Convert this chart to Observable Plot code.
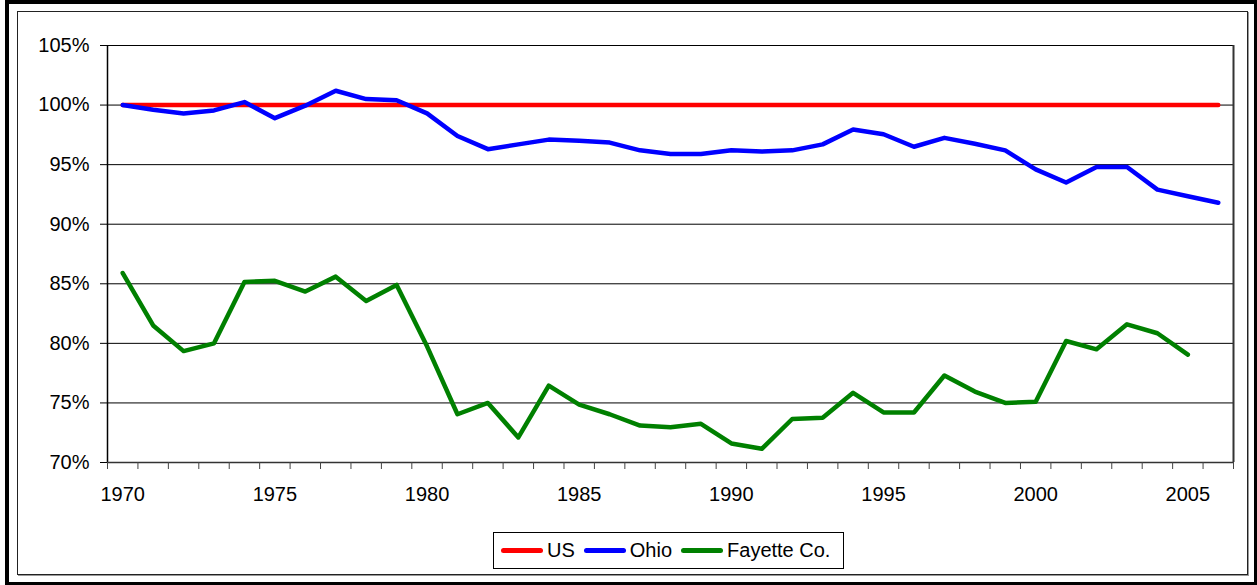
<!DOCTYPE html>
<html><head><meta charset="utf-8">
<script src="https://cdn.jsdelivr.net/npm/d3@7"></script>
<script src="https://cdn.jsdelivr.net/npm/@observablehq/plot@0.6"></script>
<style>
body{margin:0;background:#fff;}
#wrap{position:relative;width:1257px;height:585px;overflow:hidden;font-family:"Liberation Sans",Arial,sans-serif;background:#fff;}
#outer{position:absolute;left:5px;top:0;width:1252px;height:585px;box-sizing:border-box;border-style:solid;border-color:#000;border-width:4px 3px 3px 4px;}
#inner{position:absolute;left:17px;top:11px;width:1231px;height:564px;box-sizing:border-box;border:1px solid #222;box-shadow:1px 1px 0 #999;}
#chart{position:absolute;left:0;top:0;}
#legend{position:absolute;left:493px;top:532px;width:351px;height:37px;box-sizing:border-box;border:1px solid #000;display:flex;align-items:center;padding-left:7px;font-size:20px;color:#000;background:#fff;}
.item{display:flex;align-items:center;margin-right:9px;white-space:nowrap;}
.sw{width:42px;height:5px;border-radius:2.5px;margin-right:4px;}
</style></head>
<body>
<div id="wrap">
  <div id="outer"></div>
  <div id="inner"></div>
  <div id="chart"></div>
  <div id="legend"></div>
</div>
<script>
const years = [1970,1971,1972,1973,1974,1975,1976,1977,1978,1979,1980,1981,1982,1983,1984,1985,1986,1987,1988,1989,1990,1991,1992,1993,1994,1995,1996,1997,1998,1999,2000,2001,2002,2003,2004,2005,2006];
const usValues = [100,100,100,100,100,100,100,100,100,100,100,100,100,100,100,100,100,100,100,100,100,100,100,100,100,100,100,100,100,100,100,100,100,100,100,100,100];
const ohioValues = [100.0,99.6,99.3,99.55,100.25,98.9,99.95,101.2,100.5,100.4,99.3,97.4,96.3,96.7,97.1,97.0,96.85,96.2,95.9,95.9,96.2,96.1,96.2,96.7,97.95,97.55,96.5,97.25,96.75,96.2,94.6,93.5,94.8,94.8,92.9,92.35,91.8];
const fayetteValues = [85.9,81.5,79.35,80.0,85.15,85.25,84.35,85.6,83.55,84.9,79.75,74.05,75.0,72.1,76.45,74.85,74.05,73.1,72.95,73.25,71.6,71.15,73.65,73.75,75.85,74.2,74.2,77.3,75.95,75.0,75.1,80.2,79.5,81.6,80.85,79.05];
const seriesNames = ["US","Ohio","Fayette Co."];
const seriesColors = ["#ff0000","#0000ff","#008000"];
const yTickValues = [70,75,80,85,90,95,100,105];
const xLabelYears = [1970,1975,1980,1985,1990,1995,2000,2005];

const seriesValues = [usValues, ohioValues, fayetteValues];
const rows = [];
seriesNames.forEach((name, i) => {
  seriesValues[i].forEach((v, j) => rows.push({series: name, year: years[j], value: v}));
});
const boundaries = years.map(y => y - 0.5).concat([years[years.length - 1] + 0.5]);

const chart = Plot.plot({
  width: 1257, height: 585,
  marginLeft: 107, marginRight: 24, marginTop: 45, marginBottom: 123,
  x: {domain: [boundaries[0], boundaries[boundaries.length - 1]], label: null},
  y: {domain: [70, 105], label: null},
  color: {domain: seriesNames, range: seriesColors},
  style: {fontFamily: '"Liberation Sans", Arial, sans-serif', fontSize: "20px", color: "#000", background: "transparent", overflow: "visible"},
  marks: [
    Plot.ruleY(yTickValues, {stroke: "#000", strokeWidth: 1}),
    Plot.ruleX([boundaries[0]], {stroke: "#000", strokeWidth: 1.5}),
    Plot.ruleX([boundaries[boundaries.length - 1]], {stroke: "#333", strokeWidth: 2}),
    Plot.ruleY([70], {stroke: "#333", strokeWidth: 1.5}),
    Plot.axisY(yTickValues, {tickSize: 7, tickPadding: 11, tickFormat: d => d + "%", stroke: "#000", strokeOpacity: 1, fill: "#000"}),
    Plot.axisX(boundaries, {tickSize: 7, tickFormat: () => "", stroke: "#444", strokeOpacity: 1}),
    Plot.axisX(xLabelYears, {tickSize: 0, tickPadding: 24, tickFormat: d => String(d), fill: "#000"}),
    Plot.lineY(rows, {x: "year", y: "value", z: "series", stroke: "series", strokeWidth: 4.5, strokeLinecap: "round", strokeLinejoin: "round"})
  ]
});
document.getElementById("chart").appendChild(chart);

const legend = document.getElementById("legend");
seriesNames.forEach((name, i) => {
  const item = document.createElement("div");
  item.className = "item";
  const sw = document.createElement("span");
  sw.className = "sw";
  sw.style.background = seriesColors[i];
  const t = document.createElement("span");
  t.textContent = name;
  item.appendChild(sw);
  item.appendChild(t);
  legend.appendChild(item);
});
</script>
</body></html>
